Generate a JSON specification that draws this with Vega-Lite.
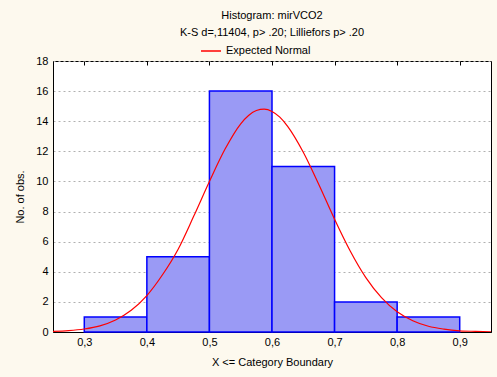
{
  "$schema": "https://vega.github.io/schema/vega-lite/v6.json",
  "width": 438,
  "height": 271,
  "autosize": "none",
  "padding": {"left": 53, "top": 61, "right": 6, "bottom": 45},
  "background": "#fdf9ee",
  "title": {
    "text": "Histogram: mirVCO2",
    "subtitle": "K-S d=,11404, p> .20; Lilliefors p> .20",
    "anchor": "middle",
    "font": "Liberation Sans",
    "fontSize": 11,
    "fontWeight": "normal",
    "subtitleFont": "Liberation Sans",
    "subtitleFontSize": 11,
    "subtitlePadding": 6,
    "color": "#000000",
    "subtitleColor": "#000000",
    "offset": 2
  },
  "config": {
    "view": {"stroke": "#000000", "strokeWidth": 1, "fill": "#ffffff"},
    "font": "Liberation Sans",
    "axis": {
      "labelFont": "Liberation Sans",
      "labelFontSize": 11,
      "labelColor": "#000000",
      "titleFont": "Liberation Sans",
      "titleFontSize": 11,
      "titleFontWeight": "normal",
      "titleColor": "#000000",
      "domainColor": "#000000",
      "tickColor": "#000000"
    }
  },
  "resolve": {"axis": {"x": "independent"}},
  "datasets": {
    "bins": [
      {"bin_start": 0.3, "bin_end": 0.4, "count": 1},
      {"bin_start": 0.4, "bin_end": 0.5, "count": 5},
      {"bin_start": 0.5, "bin_end": 0.6, "count": 16},
      {"bin_start": 0.6, "bin_end": 0.7, "count": 11},
      {"bin_start": 0.7, "bin_end": 0.8, "count": 2},
      {"bin_start": 0.8, "bin_end": 0.9, "count": 1}
    ],
    "curve": [
      {"x": 0.25, "y": 0.04, "series": "Expected Normal"},
      {"x": 0.275, "y": 0.09, "series": "Expected Normal"},
      {"x": 0.3, "y": 0.2, "series": "Expected Normal"},
      {"x": 0.325, "y": 0.41, "series": "Expected Normal"},
      {"x": 0.35, "y": 0.8, "series": "Expected Normal"},
      {"x": 0.375, "y": 1.44, "series": "Expected Normal"},
      {"x": 0.4, "y": 2.42, "series": "Expected Normal"},
      {"x": 0.425, "y": 3.8, "series": "Expected Normal"},
      {"x": 0.45, "y": 5.5, "series": "Expected Normal"},
      {"x": 0.475, "y": 7.7, "series": "Expected Normal"},
      {"x": 0.5, "y": 10.0, "series": "Expected Normal"},
      {"x": 0.525, "y": 12.15, "series": "Expected Normal"},
      {"x": 0.55, "y": 13.83, "series": "Expected Normal"},
      {"x": 0.5625, "y": 14.38, "series": "Expected Normal"},
      {"x": 0.575, "y": 14.71, "series": "Expected Normal"},
      {"x": 0.5875, "y": 14.8, "series": "Expected Normal"},
      {"x": 0.6, "y": 14.65, "series": "Expected Normal"},
      {"x": 0.6125, "y": 14.27, "series": "Expected Normal"},
      {"x": 0.625, "y": 13.66, "series": "Expected Normal"},
      {"x": 0.65, "y": 11.94, "series": "Expected Normal"},
      {"x": 0.675, "y": 9.78, "series": "Expected Normal"},
      {"x": 0.7, "y": 7.49, "series": "Expected Normal"},
      {"x": 0.725, "y": 5.38, "series": "Expected Normal"},
      {"x": 0.75, "y": 3.61, "series": "Expected Normal"},
      {"x": 0.775, "y": 2.28, "series": "Expected Normal"},
      {"x": 0.8, "y": 1.34, "series": "Expected Normal"},
      {"x": 0.825, "y": 0.75, "series": "Expected Normal"},
      {"x": 0.85, "y": 0.38, "series": "Expected Normal"},
      {"x": 0.875, "y": 0.19, "series": "Expected Normal"},
      {"x": 0.9, "y": 0.08, "series": "Expected Normal"},
      {"x": 0.925, "y": 0.04, "series": "Expected Normal"},
      {"x": 0.95, "y": 0.01, "series": "Expected Normal"}
    ]
  },
  "encoding": {
    "y": {
      "type": "quantitative",
      "scale": {"domain": [0, 18], "nice": false, "zero": true},
      "axis": {
        "values": [0, 2, 4, 6, 8, 10, 12, 14, 16, 18],
        "labelOverlap": false,
        "title": "No. of obs.",
        "grid": true,
        "gridColor": "#b0b0b0",
        "gridDash": [2, 3],
        "ticks": false,
        "labelPadding": 5,
        "titlePadding": 10
      }
    }
  },
  "layer": [
    {
      "data": {"name": "bins"},
      "mark": {"type": "rect", "fill": "#9a9af5", "stroke": "#0000ff", "strokeWidth": 1.5},
      "encoding": {
        "x": {
          "field": "bin_start",
          "type": "quantitative",
          "scale": {"domain": [0.25, 0.95], "nice": false, "zero": false},
          "axis": {
            "orient": "bottom",
            "values": [0.3, 0.4, 0.5, 0.6, 0.7, 0.8, 0.9],
            "labelExpr": "replace(format(datum.value, '.1f'), '.', ',')",
            "title": "X <= Category Boundary",
            "grid": false,
            "ticks": false,
            "labelPadding": 4,
            "titlePadding": 9
          }
        },
        "x2": {"field": "bin_end"},
        "y": {"field": "count", "type": "quantitative"},
        "y2": {"datum": 0}
      }
    },
    {
      "data": {"name": "curve"},
      "mark": {"type": "line", "strokeWidth": 1.2, "interpolate": "monotone", "clip": true},
      "encoding": {
        "x": {
          "field": "x",
          "type": "quantitative",
          "axis": {
            "orient": "top",
            "values": [0.3, 0.4, 0.5, 0.6, 0.7, 0.8, 0.9],
            "labels": false,
            "title": null,
            "grid": false,
            "domain": false,
            "ticks": true,
            "tickSize": -4,
            "tickColor": "#000000"
          }
        },
        "y": {"field": "y", "type": "quantitative"},
        "color": {
          "field": "series",
          "type": "nominal",
          "scale": {"domain": ["Expected Normal"], "range": ["#ff0000"]},
          "legend": {
            "title": null,
            "orient": "none",
            "legendX": 147,
            "legendY": -21,
            "symbolType": "stroke",
            "symbolSize": 400,
            "symbolStrokeWidth": 1.5,
            "labelFont": "Liberation Sans",
            "labelFontSize": 11,
            "labelColor": "#000000",
            "labelOffset": 4
          }
        }
      }
    }
  ]
}
